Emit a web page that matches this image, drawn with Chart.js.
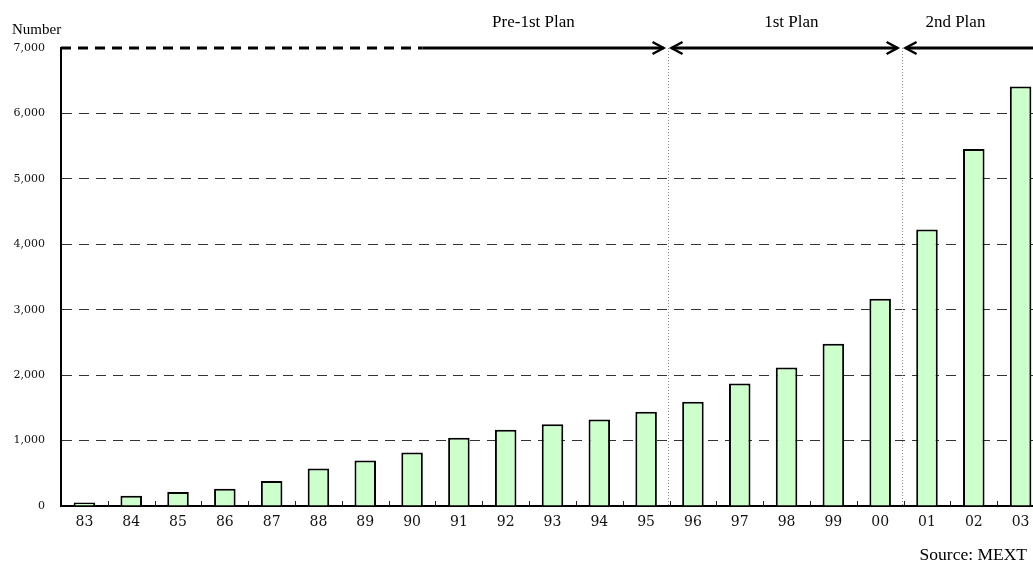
<!DOCTYPE html>
<html>
<head>
<meta charset="utf-8">
<script src="https://cdn.jsdelivr.net/npm/chart.js@4.4.1/dist/chart.umd.min.js"></script>
<style>
  html, body { margin: 0; padding: 0; background: #fff; overflow: hidden; }
  #wrap { width: 1033px; height: 563px; overflow: hidden; position: relative; }
  canvas { display: block; }
</style>
</head>
<body>
<div id="wrap"><canvas id="chart" width="1045" height="563"></canvas></div>
<script>
// Fiscal years (two-digit)
const years = ['83','84','85','86','87','88','89','90','91','92','93','94','95',
               '96','97','98','99','00','01','02','03'];
// Number per year
const counts = [55, 157, 213, 264, 381, 575, 697, 819, 1042, 1164, 1251, 1322, 1439,
                1593, 1871, 2115, 2481, 3167, 4225, 5455, 6410];
// Value axis ticks
const yTickValues = [0, 1000, 2000, 3000, 4000, 5000, 6000, 7000];
// Plan periods: name and the first year of each period
const planNames = ['Pre-1st Plan', '1st Plan', '2nd Plan'];
const planStartYears = ['83', '96', '01'];
const axisTitle = 'Number';
const sourceNote = 'Source: MEXT';

const serif = '"Liberation Serif", "Times New Roman", serif';

// Plan arrows along the top line, boundary lines, inner x ticks and captions
const planPlugin = {
  id: 'plans',
  afterDatasetsDraw(chart, args, opts) {
    const { ctx, chartArea: ca, scales: { x, y } } = chart;
    const half = (x.getPixelForValue(1) - x.getPixelForValue(0)) / 2;
    const boundary = (label) => x.getPixelForValue(years.indexOf(label)) - half;
    const topY = y.getPixelForValue(yTickValues[yTickValues.length - 1]);
    const baseY = y.getPixelForValue(0);

    // small upward tick marks at category boundaries
    ctx.save();
    ctx.strokeStyle = '#222';
    ctx.lineWidth = 1;
    for (let i = 1; i < years.length; i++) {
      const bx = Math.round(x.getPixelForValue(i) - half) + 0.5;
      ctx.beginPath();
      ctx.moveTo(bx, baseY);
      ctx.lineTo(bx, baseY - 5);
      ctx.stroke();
    }
    ctx.restore();

    // dotted period boundaries
    const starts = planStartYears.map((s, i) => i === 0 ? ca.left : boundary(s));
    ctx.save();
    ctx.strokeStyle = '#888';
    ctx.lineWidth = 1;
    ctx.setLineDash([1, 2]);
    for (let i = 1; i < starts.length; i++) {
      const bx = Math.round(starts[i]) - 1.5;
      ctx.beginPath();
      ctx.moveTo(bx, topY);
      ctx.lineTo(bx, baseY);
      ctx.stroke();
    }
    ctx.restore();

    // top line with arrows
    const gap = 4, head = 11, hh = 6;
    const chevron = (tipX, dir) => {
      ctx.beginPath();
      ctx.moveTo(tipX - dir * head, topY - hh);
      ctx.lineTo(tipX, topY);
      ctx.lineTo(tipX - dir * head, topY + hh);
      ctx.stroke();
    };
    ctx.save();
    ctx.strokeStyle = '#000';
    ctx.lineWidth = 3;
    ctx.lineCap = 'butt';
    ctx.lineJoin = 'miter';

    const ends = starts.slice(1).concat([chart.width]);
    starts.forEach((sx, i) => {
      const ex = ends[i];
      const leftTip = i === 0 ? sx : sx + gap - 2;
      const rightTip = i === ends.length - 1 ? ex : ex - gap - 2;
      let solidFrom = leftTip;
      if (i === 0) {
        // leading dashed part of the first period
        solidFrom = leftTip + (rightTip - leftTip) * opts.dashShare;
        ctx.setLineDash([10, 7]);
        ctx.beginPath();
        ctx.moveTo(leftTip, topY);
        ctx.lineTo(solidFrom, topY);
        ctx.stroke();
        ctx.setLineDash([]);
      }
      ctx.beginPath();
      ctx.moveTo(solidFrom, topY);
      ctx.lineTo(rightTip, topY);
      ctx.stroke();
      ctx.lineWidth = 2.5;
      if (i > 0) chevron(leftTip, -1);
      if (i < ends.length - 1) chevron(rightTip, 1);
      ctx.lineWidth = 3;

      // caption
      const a = i === 0 ? solidFrom : leftTip;
      const b = i === ends.length - 1 ? ca.right : rightTip;
      ctx.fillStyle = '#000';
      ctx.font = '17px ' + serif;
      ctx.textAlign = 'center';
      ctx.textBaseline = 'middle';
      ctx.fillText(planNames[i], a + (b - a) * opts.labelShare[i], 23);
    });
    ctx.restore();

    // axis title and source
    ctx.save();
    ctx.fillStyle = '#000';
    ctx.textBaseline = 'alphabetic';
    ctx.font = '15px ' + serif;
    ctx.textAlign = 'left';
    ctx.fillText(axisTitle, 12, 34);
    ctx.font = '17.5px ' + serif;
    ctx.textAlign = 'right';
    ctx.fillText(sourceNote, 1027, 560);
    ctx.restore();
  }
};

new Chart(document.getElementById('chart'), {
  type: 'bar',
  data: {
    labels: years,
    datasets: [{
      data: counts,
      backgroundColor: '#ccffcc',
      borderColor: '#000',
      borderWidth: 2,
      barPercentage: 0.46,
      categoryPercentage: 1
    }]
  },
  options: {
    responsive: false,
    animation: false,
    layout: { padding: { top: 48, left: 0, right: 1, bottom: 0 } },
    plugins: {
      legend: { display: false },
      tooltip: { enabled: false },
      plans: { dashShare: 0.6, labelShare: [0.46, 0.53, 0.36] }
    },
    scales: {
      x: {
        offset: true,
        grid: { display: false, drawTicks: false },
        border: { display: true, color: '#000', width: 2 },
        ticks: {
          padding: 8,
          color: '#111',
          maxRotation: 0,
          autoSkip: false,
          font: { family: '"DejaVu Serif", serif', size: 14 }
        },
        afterFit(scale) { scale.height = 57; }
      },
      y: {
        min: 0,
        max: 7000,
        afterBuildTicks(scale) { scale.ticks = yTickValues.map(v => ({ value: v })); },
        grid: {
          drawTicks: false,
          color: (c) => (c.tick && (c.tick.value === 0 || c.tick.value === 7000)) ? 'rgba(0,0,0,0)' : '#333',
          lineWidth: 1,
          tickBorderDash: [10, 7]
        },
        border: { display: true, color: '#000', width: 2, dash: [10, 7] },
        ticks: {
          padding: 16,
          color: '#111',
          font: { family: '"DejaVu Serif", serif', size: 11 },
          callback: (v) => Number(v).toLocaleString('en-US')
        },
        afterFit(scale) { scale.width = 61; }
      }
    }
  },
  plugins: [planPlugin]
});
</script>
</body>
</html>
